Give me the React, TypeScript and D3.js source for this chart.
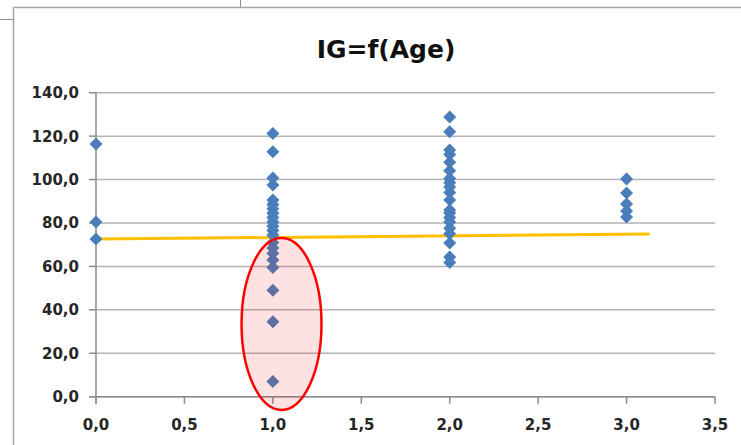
import React from "react";
import * as d3 from "d3";

const title = "IG=f(Age)";
const xTicks = [0, 0.5, 1, 1.5, 2, 2.5, 3, 3.5];
const yTicks = [0, 20, 40, 60, 80, 100, 120, 140];

const age0 = [116.4, 80.5, 72.6];
const age1 = [121.2, 112.8, 100.7, 97.5, 90.6, 88.5, 86.5, 84.5, 82.5, 80.5, 78.5, 76.5, 74.5, 71, 68.5, 66, 63, 59.5, 49, 34.5, 7];
const age2 = [128.8, 122, 113.6, 111.5, 108, 104, 100.5, 98.5, 96.6, 94, 90.6, 86, 84.6, 82.5, 80.5, 77.6, 75, 70.8, 64.3, 61.8];
const age3 = [100.2, 93.8, 88.7, 85.5, 82.8];
const ages = [0, 1, 2, 3];
const series = [age0, age1, age2, age3];

// trend line endpoints (x, y)
const trendX = [0, 3.13];
const trendY = [72.6, 74.9];

// annotation ellipse (data units)
const ellipseCenter = [1.049, 33.5];
const ellipseRadius = [0.226, 39.6];

const W = 741;
const H = 445;

export default function App() {
  const x = d3.scaleLinear().domain([0, 3.5]).range([96, 715]);
  const y = d3.scaleLinear().domain([0, 140]).range([396.7, 92.7]);
  const fmt = (v: number) => d3.format(".1f")(v).replace(".", ",");
  const points: { a: number; v: number }[] = [];
  series.forEach((s, i) => s.forEach((v) => points.push({ a: ages[i], v })));
  const line = d3
    .line<number>()
    .x((_, i) => x(trendX[i]))
    .y((d) => y(d));
  const font = "'DejaVu Sans', sans-serif";
  const d = 6.5;
  const ecx = x(ellipseCenter[0]);
  const ecy = y(ellipseCenter[1]);
  const erx = x(ellipseRadius[0]) - x(0);
  const ery = y(0) - y(ellipseRadius[1]);
  return (
    <svg
      width={W}
      height={H}
      style={{ position: "absolute", left: 0, top: 0, background: "#fff" }}
    >
      {/* surrounding frame lines */}
      <line x1={0} x2={13} y1={19.5} y2={19.5} stroke="#8c8c8c" strokeWidth={1} />
      <line x1={240.5} x2={240.5} y1={0} y2={7} stroke="#8c8c8c" strokeWidth={1} />
      <line x1={13.5} x2={13.5} y1={7} y2={H} stroke="#a6a6a6" strokeWidth={1.5} />
      <line x1={13} x2={W} y1={7.5} y2={7.5} stroke="#a6a6a6" strokeWidth={1.5} />

      <text
        x={386}
        y={58}
        textAnchor="middle"
        fontFamily={font}
        fontWeight="bold"
        fontSize={25}
        fill="#111"
      >
        {title}
      </text>

      {/* gridlines */}
      {yTicks.map((t) => (
        <line
          key={"g" + t}
          x1={x(0)}
          x2={x(3.5)}
          y1={y(t)}
          y2={y(t)}
          stroke="#b3b3b3"
          strokeWidth={1.5}
        />
      ))}
      {/* axes */}
      <line x1={x(0)} x2={x(0)} y1={y(140)} y2={y(0) + 7} stroke="#8c8c8c" strokeWidth={1.5} />
      <line x1={x(0) - 7} x2={x(3.5)} y1={y(0)} y2={y(0)} stroke="#8c8c8c" strokeWidth={1.5} />
      {yTicks.map((t) => (
        <g key={"y" + t}>
          <line x1={x(0) - 7} x2={x(0)} y1={y(t)} y2={y(t)} stroke="#8c8c8c" strokeWidth={1.5} />
          <text
            x={79}
            y={y(t) + 5.5}
            textAnchor="end"
            fontFamily={font}
            fontWeight="bold"
            fontSize={15}
            fill="#262626"
          >
            {fmt(t)}
          </text>
        </g>
      ))}
      {xTicks.map((t) => (
        <g key={"x" + t}>
          <line x1={x(t)} x2={x(t)} y1={y(0)} y2={y(0) + 7} stroke="#8c8c8c" strokeWidth={1.5} />
          <text
            x={x(t)}
            y={430}
            textAnchor="middle"
            fontFamily={font}
            fontWeight="bold"
            fontSize={15}
            fill="#262626"
          >
            {fmt(t)}
          </text>
        </g>
      ))}

      {/* trend line */}
      <path d={line(trendY) || ""} fill="none" stroke="#ffc000" strokeWidth={3} />

      {/* points */}
      {points.map((p, i) => {
        const cx = x(p.a);
        const cy = y(p.v);
        return (
          <path
            key={i}
            d={`M${cx},${cy - d}L${cx + d},${cy}L${cx},${cy + d}L${cx - d},${cy}Z`}
            fill="#4a7ebb"
          />
        );
      })}

      {/* annotation ellipse (semi-transparent, on top) */}
      <ellipse
        cx={ecx}
        cy={ecy}
        rx={erx}
        ry={ery}
        fill="rgba(245,0,0,0.115)"
        stroke="#ff0000"
        strokeWidth={2.5}
      />
    </svg>
  );
}
